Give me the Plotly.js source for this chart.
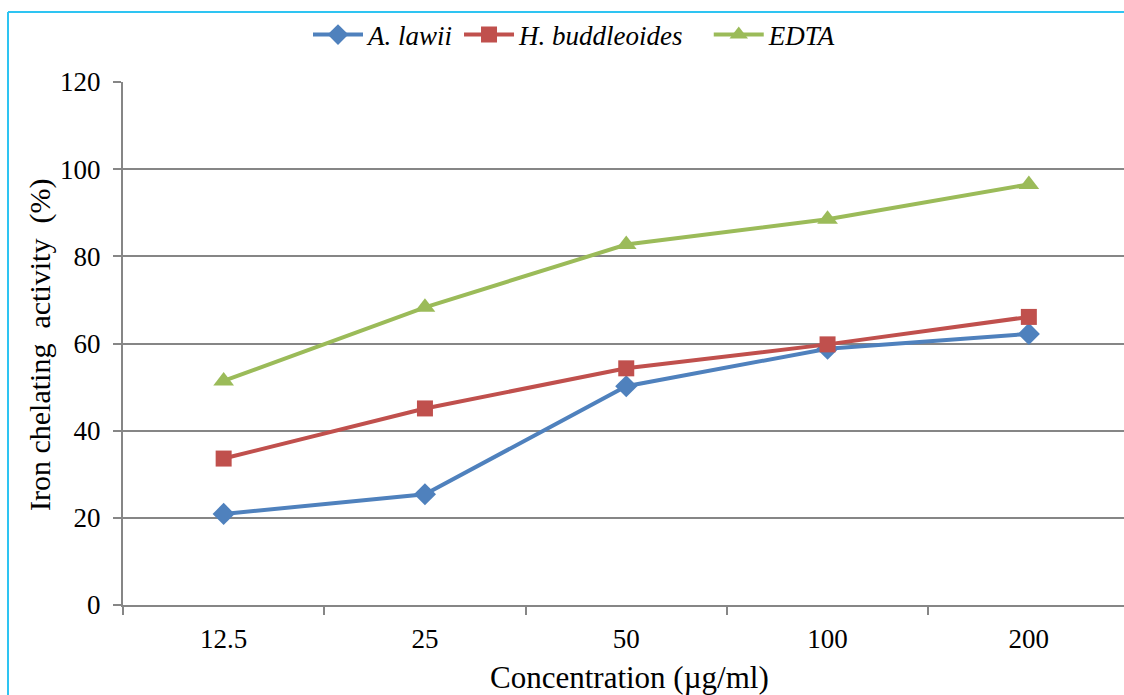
<!DOCTYPE html>
<html>
<head>
<meta charset="utf-8">
<script src="https://cdn.plot.ly/plotly-3.0.1.min.js"></script>
<style>
html,body{margin:0;padding:0;background:#fff;overflow:hidden;}
#chart{width:1124px;height:695px;}
</style>
</head>
<body>
<div id="chart"></div>
<script>
var categories = ["12.5", "25", "50", "100", "200"];
var seriesNames = ["A. lawii", "H. buddleoides", "EDTA"];
var aLawii = [20.9, 25.4, 50.2, 58.8, 62.2];
var hBuddleoides = [33.6, 45.1, 54.3, 59.8, 66.1];
var edta = [51.4, 68.3, 82.7, 88.5, 96.5];
var yTicks = [0, 20, 40, 60, 80, 100, 120];
var xTitle = 'Concentration (µg/ml)';
var yTitle = 'Iron chelating&nbsp; activity&nbsp; (%)';

var serif = "'Liberation Serif', 'Times New Roman', serif";

function mk(name, vals, color, symbol, size, pad) {
  return {
    type: 'scatter', mode: 'lines+markers',
    x: categories, y: vals, name: '<i>' + name + '</i>' + (pad || ''),
    line: {color: color, width: 4},
    marker: {color: color, symbol: symbol, size: size, line: {width: 0}},
    cliponaxis: false
  };
}

var traces = [
  mk(seriesNames[0], aLawii, '#4F81BD', 'diamond', 17),
  mk(seriesNames[1], hBuddleoides, '#C0504D', 'square', 16, '&nbsp;&nbsp;&nbsp;'),
  mk(seriesNames[2], edta, '#9BBB59', 'triangle-up', 18)
];

var plotW = 1124 - 123;
var plotH = 695 - 82 - 90;
var catW = 201.3;

var layout = {
  width: 1124, height: 695,
  margin: {l: 123, r: 0, t: 82, b: 90, pad: 0},
  paper_bgcolor: '#fff', plot_bgcolor: '#fff',
  font: {family: serif, color: '#000', size: 27},
  showlegend: true,
  legend: {
    orientation: 'h', x: (308 - 123) / plotW, xanchor: 'left',
    y: 1 + 47 / plotH, yanchor: 'middle', yref: 'paper',
    font: {family: serif, size: 27, color: '#000'},
    bgcolor: 'rgba(0,0,0,0)', itemwidth: 50, tracegroupgap: 0
  },
  xaxis: {
    type: 'category', range: [-0.5, -0.5 + plotW / catW],
    showgrid: false, zeroline: false,
    showline: true, linecolor: '#868686', linewidth: 2,
    ticks: 'outside', tickson: 'boundaries', ticklen: 8, tickwidth: 2, tickcolor: '#868686',
    ticklabelstandoff: 9,
    tickfont: {family: serif, size: 27, color: '#000'},
    fixedrange: true
  },
  yaxis: {
    range: [0, 120], tickvals: yTicks, ticktext: yTicks.map(String),
    showgrid: true, gridcolor: '#868686', gridwidth: 2,
    zeroline: false,
    showline: true, linecolor: '#868686', linewidth: 2,
    ticks: 'outside', ticklen: 8, tickwidth: 2, tickcolor: '#868686',
    ticklabelstandoff: 7,
    tickfont: {family: serif, size: 27, color: '#000'},
    fixedrange: true
  },
  annotations: [
    {text: xTitle, xref: 'paper', yref: 'paper', x: (629 - 123) / plotW, y: -(677 - 605) / plotH,
     xanchor: 'center', yanchor: 'middle', showarrow: false,
     font: {family: serif, size: 31, color: '#000'}},
    {text: yTitle, xref: 'paper', yref: 'paper', x: (40 - 123) / plotW, y: 1 - (345 - 82) / plotH,
     xanchor: 'center', yanchor: 'middle', showarrow: false, textangle: -90,
     font: {family: serif, size: 30, color: '#000'}}
  ],
  shapes: [
    {type: 'line', xref: 'paper', yref: 'paper',
     x0: (8 - 123) / plotW, x1: 1.05, y0: (695 - 12 - 90) / plotH, y1: (695 - 12 - 90) / plotH,
     line: {color: '#2EC4F2', width: 2}},
    {type: 'line', xref: 'paper', yref: 'paper',
     x0: (8 - 123) / plotW, x1: (8 - 123) / plotW, y0: (695 - 12 - 90) / plotH, y1: -0.3,
     line: {color: '#2EC4F2', width: 2}}
  ]
};

Plotly.newPlot('chart', traces, layout, {displayModeBar: false, staticPlot: true});
</script>
</body>
</html>
